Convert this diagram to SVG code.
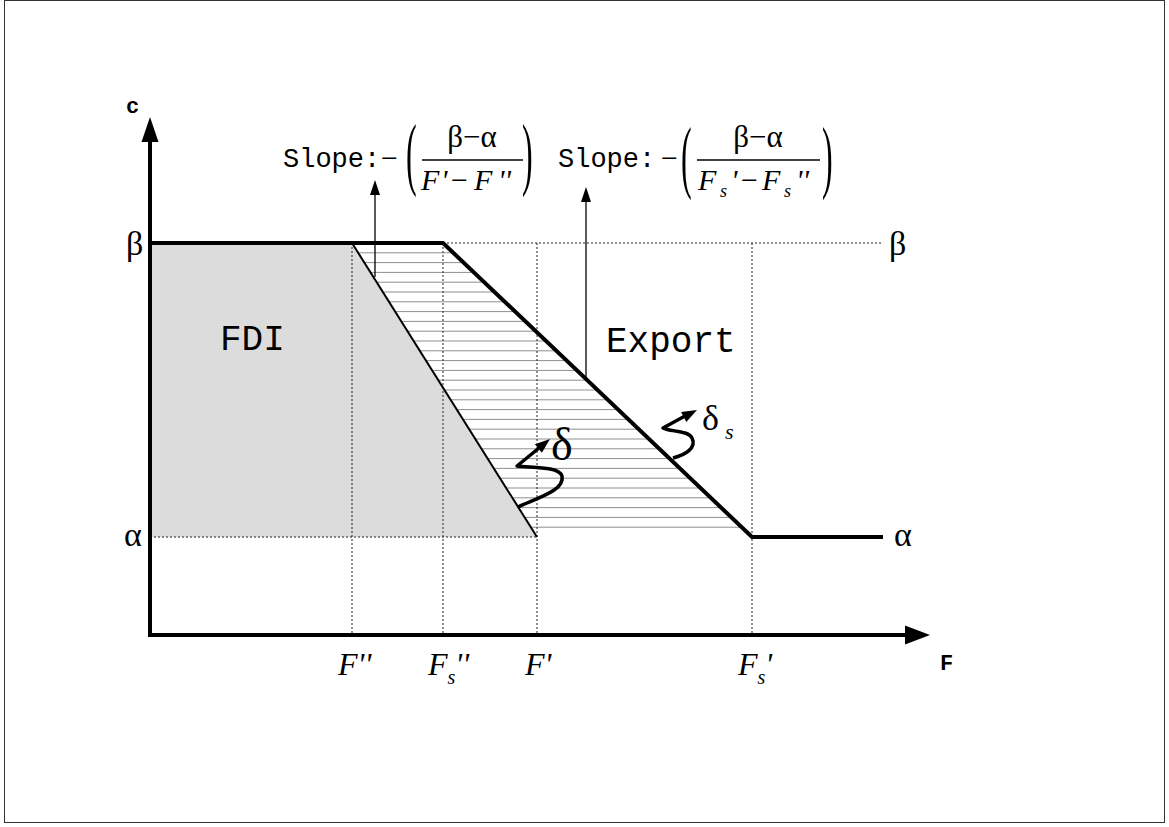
<svg xmlns="http://www.w3.org/2000/svg" width="1169" height="827" viewBox="0 0 1169 827">
<style>
.mono{font-family:"Liberation Mono","Courier New",monospace;fill:#000}
.serif{font-family:"Liberation Serif","Times New Roman",serif;fill:#000}
.it{font-style:italic}
.dot{stroke:#222;stroke-width:1;stroke-dasharray:2,2;fill:none}
.thick{stroke:#000;stroke-width:4;fill:none;stroke-linecap:square}
.hatch{stroke:#8f8f8f;stroke-width:1}
.conn{stroke:#000;stroke-width:1.3;fill:none}
.curl{stroke:#000;stroke-width:3.5;fill:none;stroke-linejoin:round}
</style>
<defs>
<clipPath id="hclip"><polygon points="352,243 443,243 752,537 537,537"/></clipPath>
</defs>
<rect x="4.5" y="0.5" width="1160" height="822" fill="#fff" stroke="#333" stroke-width="1"/>

<g id="fdi-region">
<polygon points="150,243 352,243 537,537 150,537" fill="#dcdcdc"/>
<text class="mono" x="220" y="350" font-size="36">FDI</text>
</g>

<g id="hatch-region" clip-path="url(#hclip)">
<line class="hatch" x1="340" x2="760" y1="252.8" y2="252.8"/>
<line class="hatch" x1="340" x2="760" y1="262.6" y2="262.6"/>
<line class="hatch" x1="340" x2="760" y1="272.4" y2="272.4"/>
<line class="hatch" x1="340" x2="760" y1="282.2" y2="282.2"/>
<line class="hatch" x1="340" x2="760" y1="292" y2="292"/>
<line class="hatch" x1="340" x2="760" y1="301.8" y2="301.8"/>
<line class="hatch" x1="340" x2="760" y1="311.6" y2="311.6"/>
<line class="hatch" x1="340" x2="760" y1="321.4" y2="321.4"/>
<line class="hatch" x1="340" x2="760" y1="331.2" y2="331.2"/>
<line class="hatch" x1="340" x2="760" y1="341" y2="341"/>
<line class="hatch" x1="340" x2="760" y1="350.8" y2="350.8"/>
<line class="hatch" x1="340" x2="760" y1="360.6" y2="360.6"/>
<line class="hatch" x1="340" x2="760" y1="370.4" y2="370.4"/>
<line class="hatch" x1="340" x2="760" y1="380.2" y2="380.2"/>
<line class="hatch" x1="340" x2="760" y1="390" y2="390"/>
<line class="hatch" x1="340" x2="760" y1="399.8" y2="399.8"/>
<line class="hatch" x1="340" x2="760" y1="409.6" y2="409.6"/>
<line class="hatch" x1="340" x2="760" y1="419.4" y2="419.4"/>
<line class="hatch" x1="340" x2="760" y1="429.2" y2="429.2"/>
<line class="hatch" x1="340" x2="760" y1="439" y2="439"/>
<line class="hatch" x1="340" x2="760" y1="448.8" y2="448.8"/>
<line class="hatch" x1="340" x2="760" y1="458.6" y2="458.6"/>
<line class="hatch" x1="340" x2="760" y1="468.4" y2="468.4"/>
<line class="hatch" x1="340" x2="760" y1="478.2" y2="478.2"/>
<line class="hatch" x1="340" x2="760" y1="488" y2="488"/>
<line class="hatch" x1="340" x2="760" y1="497.8" y2="497.8"/>
<line class="hatch" x1="340" x2="760" y1="507.6" y2="507.6"/>
<line class="hatch" x1="340" x2="760" y1="517.4" y2="517.4"/>
<line class="hatch" x1="340" x2="760" y1="527.2" y2="527.2"/>
</g>

<g id="guides">
<line class="dot" x1="352" y1="243" x2="352" y2="634"/>
<line class="dot" x1="443" y1="243" x2="443" y2="634"/>
<line class="dot" x1="537" y1="243" x2="537" y2="634"/>
<line class="dot" x1="752" y1="243" x2="752" y2="634"/>
<line class="dot" x1="443" y1="243" x2="883" y2="243"/>
<line class="dot" x1="150" y1="537" x2="537" y2="537"/>
</g>

<g id="curves">
<line x1="352" y1="243" x2="537" y2="537" stroke="#000" stroke-width="2"/>
<polyline class="thick" points="150,243 443,243 752,537 881,537"/>
</g>

<g id="axes">
<polyline points="150,140 150,635 907,635" fill="none" stroke="#000" stroke-width="4"/>
<polygon points="150,117 141.5,142 158.5,142" fill="#000"/>
<polygon points="930,635 905,625.5 905,644.5" fill="#000"/>
<text class="mono" x="126" y="113" font-size="22" font-weight="bold">c</text>
<text class="mono" x="940" y="670" font-size="22" font-weight="bold">F</text>
</g>

<g id="level-labels">
<text class="serif" x="126" y="255" font-size="34">β</text>
<text class="serif" x="124" y="546" font-size="34">α</text>
<text class="serif" x="889" y="255" font-size="34">β</text>
<text class="serif" x="894" y="546" font-size="34">α</text>
</g>

<g id="axis-ticks">
<text class="serif it" x="338" y="675" font-size="32">F''</text>
<text class="serif it" x="428" y="675" font-size="32">F<tspan font-size="20" dy="9">s</tspan><tspan dy="-9">''</tspan></text>
<text class="serif it" x="525" y="675" font-size="32">F'</text>
<text class="serif it" x="738" y="675" font-size="32">F<tspan font-size="20" dy="9">s</tspan><tspan dy="-9">'</tspan></text>
</g>

<g id="export-label">
<text class="mono" x="606" y="352" font-size="36">Export</text>
</g>

<g id="slope1">
<text class="mono" x="283" y="167" font-size="27">Slope:</text>
<text class="serif" x="381" y="168" font-size="30">−</text>
<text class="serif" font-size="32" transform="translate(406,180) scale(1,2.5)">(</text>
<text class="serif" x="472" y="147" font-size="31" text-anchor="middle">β−α</text>
<line x1="422" y1="160" x2="523" y2="160" stroke="#000" stroke-width="1.5"/>
<text class="serif" y="190" font-size="30"><tspan class="it" x="421">F</tspan><tspan class="it" x="441">'</tspan><tspan x="451">−</tspan><tspan class="it" x="474">F</tspan><tspan class="it" x="498">''</tspan></text>
<text class="serif" font-size="32" transform="translate(522,180) scale(1,2.5)">)</text>
</g>

<g id="slope2">
<text class="mono" x="558" y="167" font-size="27">Slope:</text>
<text class="serif" x="661" y="168" font-size="30">−</text>
<text class="serif" font-size="32" transform="translate(681,183) scale(1,2.5)">(</text>
<text class="serif" x="758" y="147" font-size="31" text-anchor="middle">β−α</text>
<line x1="697" y1="160" x2="820" y2="160" stroke="#000" stroke-width="1.5"/>
<text class="serif" y="190" font-size="30"><tspan class="it" x="698">F</tspan><tspan class="it" x="720" y="197" font-size="18">s</tspan><tspan class="it" x="731" y="190">'</tspan><tspan x="741">−</tspan><tspan class="it" x="762">F</tspan><tspan class="it" x="784" y="197" font-size="18">s</tspan><tspan class="it" x="796" y="190">''</tspan></text>
<text class="serif" font-size="32" transform="translate(822,183) scale(1,2.5)">)</text>
</g>

<g id="connectors">
<line class="conn" x1="375" y1="277" x2="375" y2="194"/>
<polygon points="375,180 370,195 380,195" fill="#000"/>
<line class="conn" x1="586" y1="377" x2="586" y2="201"/>
<polygon points="586,187 581,202 591,202" fill="#000"/>
</g>

<g id="delta">
<path class="curl" d="M518,507 C540,497 565,490 562,476 C559,466 530,468 517,466 L539,448"/>
<polygon points="550,439 541.9,452.8 534.9,444.2" fill="#000"/>
<text class="serif" x="551" y="460" font-size="46">δ</text>
</g>

<g id="delta-s">
<path class="curl" d="M673,458 C685,455 697,448 692,438 C688,430 670,432 663,428 L685,416"/>
<polygon points="697,410 686.3,421.9 681.1,412.1" fill="#000"/>
<text class="serif" x="702" y="430" font-size="36">δ</text>
<text class="serif it" x="725" y="439" font-size="22">s</text>
</g>
</svg>
